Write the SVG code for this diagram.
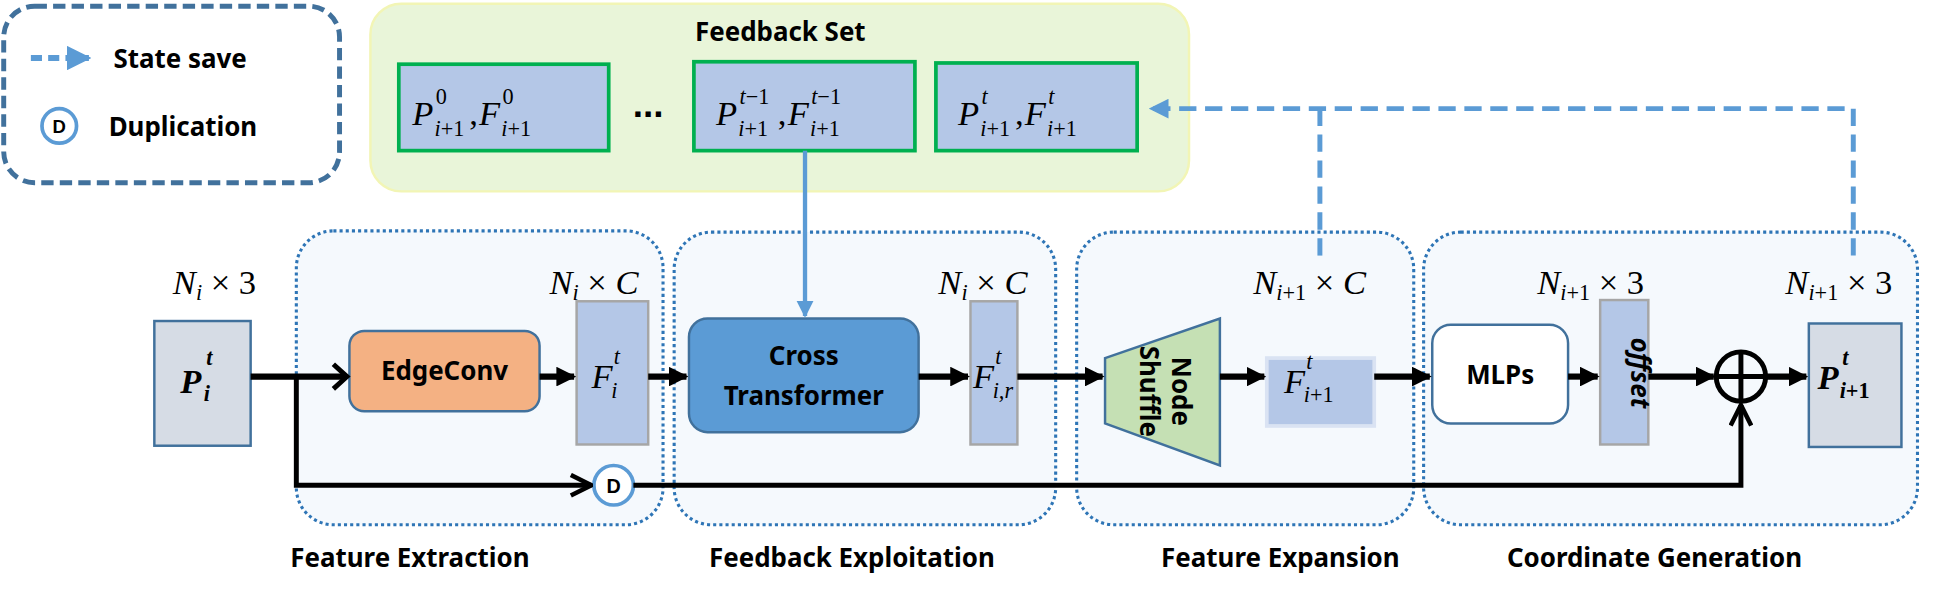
<svg xmlns="http://www.w3.org/2000/svg" width="1936" height="596" viewBox="0 0 1936 596">
<defs>
<style>
.lbl{font-family:"Noto Sans","Liberation Sans",sans-serif;font-weight:bold;font-size:21px;fill:#000}
.m{font-family:"Liberation Serif","DejaVu Serif",serif;font-style:italic;font-size:28px;fill:#000}
.s{font-family:"Liberation Serif","DejaVu Serif",serif;font-style:italic;font-size:18px;fill:#000}
.up{font-style:normal}
.reg{fill:#f5f9fd;stroke:#2e75b6;stroke-width:2.5;stroke-dasharray:2.5 2.5}
.fb{fill:#b4c7e7;stroke:#00b050;stroke-width:3}
.tall{fill:#b4c7e7;stroke:#a6a6a6;stroke-width:2}
.pbox{fill:#d6dce5;stroke:#41719c;stroke-width:2}
.ar{stroke:#000;stroke-width:5;fill:none}
.thin{stroke:#000;stroke-width:4;fill:none}
</style>
<marker id="ah" viewBox="0 0 10 10" refX="9" refY="5" markerWidth="3.2" markerHeight="3.2" orient="auto" markerUnits="strokeWidth"><path d="M0,0 L10,5 L0,10 z" fill="#000"/></marker>
<marker id="ao" viewBox="0 0 12 12" refX="11" refY="6" markerWidth="5" markerHeight="5" orient="auto" markerUnits="strokeWidth"><path d="M1,1 L11,6 L1,11" fill="none" stroke="#000" stroke-width="2.2"/></marker>
<marker id="ab" viewBox="0 0 10 10" refX="9" refY="5" markerWidth="4" markerHeight="4" orient="auto" markerUnits="strokeWidth"><path d="M0,0 L10,5 L0,10 z" fill="#5b9bd5"/></marker>
</defs>
<g transform="scale(1.2347)">
<g id="legend">
<rect x="3" y="5" width="272" height="143" rx="25" fill="#fff" stroke="#41719c" stroke-width="4" stroke-dasharray="10 5"/>
<line x1="25" y1="47" x2="72" y2="47" stroke="#5b9bd5" stroke-width="5" stroke-dasharray="9 5" marker-end="url(#ab)"/>
<text class="lbl" x="92" y="55">State save</text>
<circle cx="48" cy="102" r="14" fill="#fff" stroke="#5b9bd5" stroke-width="3"/>
<text x="48" y="108" text-anchor="middle" font-family="Liberation Sans,sans-serif" font-size="15" font-weight="bold">D</text>
<text class="lbl" x="88" y="110">Duplication</text>
</g>
<g id="feedback-set">
<rect x="300" y="3" width="663" height="152" rx="25" fill="#e9f5d9" stroke="#f2f5b5" stroke-width="2"/>
<text class="lbl" x="632" y="33" text-anchor="middle">Feedback Set</text>
<rect class="fb" x="323" y="52" width="170" height="70"/>
<text class="m" x="334" y="101">P</text><text class="s up" x="353" y="84">0</text><text class="s" x="352" y="110">i<tspan class="up">+1</tspan></text>
<text class="m up" x="380" y="101">,</text>
<text class="m" x="388" y="101">F</text><text class="s up" x="407" y="84">0</text><text class="s" x="406" y="110">i<tspan class="up">+1</tspan></text>
<text x="525" y="95" text-anchor="middle" font-family="Liberation Sans,sans-serif" font-weight="bold" font-size="30">...</text>
<rect class="fb" x="562" y="50" width="179" height="72"/>
<text class="m" x="580" y="101">P</text><text class="s" x="599" y="84">t<tspan class="up">−1</tspan></text><text class="s" x="598" y="110">i<tspan class="up">+1</tspan></text>
<text class="m up" x="630" y="101">,</text>
<text class="m" x="638" y="101">F</text><text class="s" x="657" y="84">t<tspan class="up">−1</tspan></text><text class="s" x="656" y="110">i<tspan class="up">+1</tspan></text>
<rect class="fb" x="758" y="51" width="163" height="71"/>
<text class="m" x="776" y="101">P</text><text class="s" x="795" y="84">t</text><text class="s" x="794" y="110">i<tspan class="up">+1</tspan></text>
<text class="m up" x="822" y="101">,</text>
<text class="m" x="830" y="101">F</text><text class="s" x="849" y="84">t</text><text class="s" x="848" y="110">i<tspan class="up">+1</tspan></text>
</g>
<g id="regions">
<rect class="reg" x="240" y="187" width="297" height="238" rx="30"/>
<rect class="reg" x="546" y="188" width="309" height="237" rx="30"/>
<rect class="reg" x="872" y="188" width="273" height="237" rx="30"/>
<rect class="reg" x="1153" y="188" width="400" height="237" rx="30"/>
<text class="lbl" x="332" y="459" text-anchor="middle">Feature Extraction</text>
<text class="lbl" x="690" y="459" text-anchor="middle">Feedback Exploitation</text>
<text class="lbl" x="1037" y="459" text-anchor="middle">Feature Expansion</text>
<text class="lbl" x="1340" y="459" text-anchor="middle">Coordinate Generation</text>
</g>
<g id="dims">
<text class="m" x="140" y="238">N<tspan dy="5" font-size="18">i</tspan><tspan dy="-5" class="up"> × 3</tspan></text>
<text class="m" x="445" y="238">N<tspan dy="5" font-size="18">i</tspan><tspan dy="-5" class="up"> × </tspan>C</text>
<text class="m" x="760" y="238">N<tspan dy="5" font-size="18">i</tspan><tspan dy="-5" class="up"> × </tspan>C</text>
<text class="m" x="1015" y="238">N<tspan dy="5" font-size="18">i</tspan><tspan font-size="18" class="up">+1</tspan><tspan dy="-5" class="up"> × </tspan>C</text>
<text class="m" x="1245" y="238">N<tspan dy="5" font-size="18">i</tspan><tspan font-size="18" class="up">+1</tspan><tspan dy="-5" class="up"> × 3</tspan></text>
<text class="m" x="1446" y="238">N<tspan dy="5" font-size="18">i</tspan><tspan font-size="18" class="up">+1</tspan><tspan dy="-5" class="up"> × 3</tspan></text>
</g>
<g id="nodes">
<g id="p-in"><rect class="pbox" x="125" y="260" width="78" height="101"/>
<text class="m" x="146" y="318" font-weight="bold" font-size="30">P</text><text class="s" x="167" y="296" font-weight="bold" font-size="20">t</text><text class="s" x="165" y="325" font-weight="bold" font-size="20">i</text></g>
<g id="edgeconv"><rect x="283" y="268" width="154" height="65" rx="12" fill="#f4b183" stroke="#41719c" stroke-width="2"/>
<text class="lbl" x="360" y="308" text-anchor="middle">EdgeConv</text></g>
<g id="fi"><rect class="tall" x="467" y="244" width="58" height="116"/>
<text class="m" x="479" y="314">F</text><text class="s" x="497" y="295">t</text><text class="s" x="495" y="322">i</text></g>
<g id="cross"><rect x="558" y="258" width="186" height="92" rx="15" fill="#5b9bd5" stroke="#41719c" stroke-width="2"/>
<text class="lbl" x="651" y="296" text-anchor="middle">Cross</text>
<text class="lbl" x="651" y="328" text-anchor="middle">Transformer</text></g>
<g id="fir"><rect class="tall" x="786" y="244" width="38" height="116"/>
<text class="m" x="788" y="314">F</text><text class="s" x="806" y="295">t</text><text class="s" x="804" y="322">i,r</text></g>
<g id="shuffle"><polygon points="895,290 988,258 988,377 895,343" fill="#c5e0b4" stroke="#41719c" stroke-width="2"/>
<text class="lbl" transform="translate(941,317) rotate(90)" text-anchor="middle"><tspan x="0" y="-8">Node</tspan><tspan x="0" y="18">Shuffle</tspan></text></g>
<g id="fi1"><rect x="1026" y="290" width="87" height="55" fill="#b4c7e7" stroke="#dae3f3" stroke-width="3"/>
<text class="m" x="1040" y="318">F</text><text class="s" x="1058" y="299">t</text><text class="s" x="1056" y="326">i<tspan class="up">+1</tspan></text></g>
<g id="mlps"><rect x="1160" y="263" width="110" height="80" rx="15" fill="#fff" stroke="#41719c" stroke-width="2"/>
<text class="lbl" x="1215" y="311" text-anchor="middle">MLPs</text></g>
<g id="offset"><rect class="tall" x="1296" y="243" width="39" height="117"/>
<text class="lbl" font-style="italic" transform="translate(1315,302) rotate(90)" text-anchor="middle" y="-6">offset</text></g>
<g id="plus"><circle cx="1410" cy="305" r="20" fill="none" stroke="#000" stroke-width="4"/>
<line x1="1390" y1="305" x2="1430" y2="305" stroke="#000" stroke-width="4"/><line x1="1410" y1="285" x2="1410" y2="325" stroke="#000" stroke-width="4"/></g>
<g id="p-out"><rect class="pbox" x="1465" y="262" width="75" height="100"/>
<text class="m" x="1472" y="315" font-weight="bold">P</text><text class="s" x="1492" y="296" font-weight="bold" font-size="19">t</text><text class="s" x="1490" y="322" font-weight="bold" font-size="19">i<tspan class="up">+1</tspan></text></g>
<g id="dup"><circle cx="497" cy="393" r="16" fill="#fff" stroke="#5b9bd5" stroke-width="3"/>
<text x="497" y="399" text-anchor="middle" font-family="Liberation Sans,sans-serif" font-size="16" font-weight="bold">D</text></g>
</g>
<g id="connectors">
<line class="ar" x1="203" y1="305" x2="279" y2="305"/>
<polyline class="thin" points="270,295 281,305 270,315" stroke-width="5"/>
<line class="ar" x1="437" y1="305" x2="465" y2="305" marker-end="url(#ah)"/>
<line class="ar" x1="525" y1="305" x2="556" y2="305" marker-end="url(#ah)"/>
<line class="ar" x1="744" y1="305" x2="784" y2="305" marker-end="url(#ah)"/>
<line class="ar" x1="824" y1="305" x2="893" y2="305" marker-end="url(#ah)"/>
<line class="ar" x1="988" y1="305" x2="1024" y2="305" marker-end="url(#ah)"/>
<line class="ar" x1="1113" y1="305" x2="1158" y2="305" marker-end="url(#ah)"/>
<line class="ar" x1="1270" y1="305" x2="1294" y2="305" marker-end="url(#ah)"/>
<line class="ar" x1="1335" y1="305" x2="1388" y2="305" marker-end="url(#ah)"/>
<line class="ar" x1="1430" y1="305" x2="1463" y2="305" marker-end="url(#ah)"/>
<polyline class="thin" points="240,305 240,393 479,393" marker-end="url(#ao)"/>
<polyline class="thin" points="513,393 1410,393 1410,328" marker-end="url(#ao)"/>
<line x1="652" y1="122" x2="652" y2="256" stroke="#5b9bd5" stroke-width="3.5" marker-end="url(#ab)"/>
<polyline points="1501,207 1501,88 932,88" fill="none" stroke="#5b9bd5" stroke-width="4" stroke-dasharray="14 7" marker-end="url(#ab)"/>
<line x1="1069" y1="207" x2="1069" y2="88" stroke="#5b9bd5" stroke-width="4" stroke-dasharray="14 7"/>
</g>
</g>
</svg>
